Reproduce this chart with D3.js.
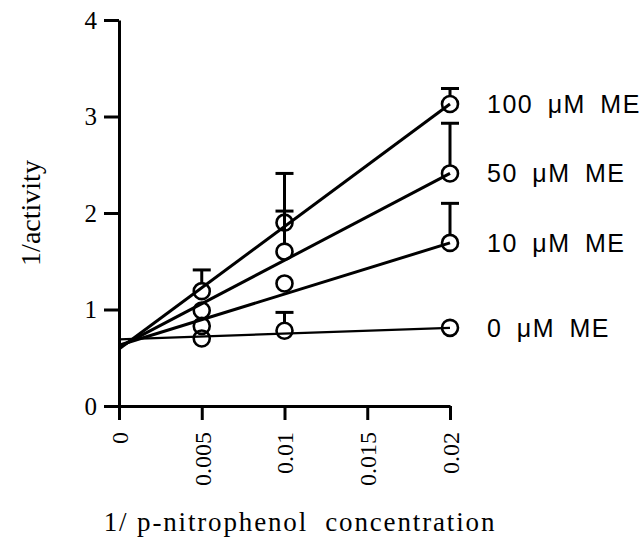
<!DOCTYPE html>
<html>
<head>
<meta charset="utf-8">
<script src="https://d3js.org/d3.v7.min.js"></script>
<style>
  body { margin: 0; background: #fff; }
  svg { display: block; }
</style>
</head>
<body>
<svg width="642" height="547"></svg>
<script>
const width = 642
const height = 547

// x positions of measured points (1/[p-nitrophenol])
const xValues = [0.005, 0.01, 0.02]

// series labels and measured 1/activity values
const seriesLabels = ["0 \u03bcM ME", "10 \u03bcM ME", "50 \u03bcM ME", "100 \u03bcM ME"]
const me0 = [0.70, 0.78, 0.81]
const me10 = [0.83, 1.27, 1.69]
const me50 = [0.99, 1.60, 2.41]
const me100 = [1.19, 1.90, 3.13]

// upper error bar ends (null = no bar drawn)
const err0 = [null, 0.97, null]
const err10 = [null, null, 2.10]
const err50 = [null, 2.02, 2.93]
const err100 = [1.41, 2.41, 3.29]

// fitted line ends at x = 0 and x = 0.02
const fitStart = [0.69, 0.63, 0.61, 0.59]
const fitEnd = [0.81, 1.69, 2.41, 3.13]

const xTicks = [0, 0.005, 0.01, 0.015, 0.02]
const yTicks = [0, 1, 2, 3, 4]

const series = [me0, me10, me50, me100]
const errors = [err0, err10, err50, err100]

const serif = "'Liberation Serif', 'Times New Roman', serif"

const x = d3.scaleLinear().domain([0, 0.02]).range([119, 450])
const y = d3.scaleLinear().domain([0, 4]).range([406, 20])

const svg = d3.select("svg")

// fitted lines
svg.append("g")
  .selectAll("line")
  .data(fitStart)
  .join("line")
  .attr("x1", x(0))
  .attr("y1", d => y(d))
  .attr("x2", x(0.02))
  .attr("y2", (d, i) => y(fitEnd[i]))
  .attr("stroke", "#000")
  .attr("stroke-width", (d, i) => i === 0 ? 2.2 : 3)

// error bars
const bars = []
series.forEach((s, i) => {
  s.forEach((v, j) => {
    if (errors[i][j] != null) bars.push({x: xValues[j], v: v, e: errors[i][j]})
  })
})

const eb = svg.append("g").selectAll("g").data(bars).join("g")
eb.append("line")
  .attr("x1", d => x(d.x))
  .attr("x2", d => x(d.x))
  .attr("y1", d => y(d.v) - 8)
  .attr("y2", d => y(d.e))
  .attr("stroke", "#000")
  .attr("stroke-width", 3)
eb.append("line")
  .attr("x1", d => x(d.x) - 9)
  .attr("x2", d => x(d.x) + 9)
  .attr("y1", d => y(d.e))
  .attr("y2", d => y(d.e))
  .attr("stroke", "#000")
  .attr("stroke-width", 3)

// points
const pts = []
series.forEach((s, i) => s.forEach((v, j) => pts.push({x: xValues[j], v: v})))

svg.append("g")
  .selectAll("circle")
  .data(pts)
  .join("circle")
  .attr("cx", d => x(d.x))
  .attr("cy", d => y(d.v))
  .attr("r", 8)
  .attr("fill", "none")
  .attr("stroke", "#000")
  .attr("stroke-width", 2.6)

// axes
const xAxis = svg.append("g")
  .attr("transform", `translate(0,${y(0)})`)
  .call(d3.axisBottom(x).tickValues(xTicks).tickSize(14).tickSizeOuter(0).tickFormat(d => d === 0 ? "0" : d3.format("")(d)))
xAxis.attr("font-family", serif).attr("font-size", 24)
xAxis.select(".domain").attr("stroke-width", 3)
xAxis.selectAll(".tick line").attr("stroke-width", 3)
xAxis.selectAll(".tick text")
  .attr("transform", "rotate(-90)")
  .attr("text-anchor", "end")
  .attr("x", -26)
  .attr("y", 0)
  .attr("dy", "0.35em")
  .attr("fill", "#000")

const yAxis = svg.append("g")
  .attr("transform", `translate(${x(0)},0)`)
  .call(d3.axisLeft(y).tickValues(yTicks).tickFormat(d3.format("d")).tickSize(15).tickSizeOuter(0).tickPadding(7))
yAxis.attr("font-family", serif).attr("font-size", 25)
yAxis.select(".domain").attr("stroke-width", 3)
yAxis.selectAll(".tick line").attr("stroke-width", 3)
yAxis.selectAll(".tick text").attr("fill", "#000")

// series labels
svg.append("g")
  .selectAll("text")
  .data(seriesLabels)
  .join("text")
  .attr("x", x(0.02) + 37)
  .attr("y", (d, i) => y(fitEnd[i]))
  .attr("dy", "0.35em")
  .style("font-family", "'Liberation Sans', Arial, sans-serif")
  .style("font-size", "25px")
  .style("letter-spacing", "1.5px")
  .style("word-spacing", "6px")
  .text(d => d)

// axis titles
svg.append("text")
  .attr("transform", "translate(40,213) rotate(-90)")
  .attr("text-anchor", "middle")
  .style("font-family", serif)
  .style("font-size", "28px")
  .text("1/activity")

svg.append("text")
  .attr("x", 300)
  .attr("y", 531)
  .attr("text-anchor", "middle")
  .style("font-family", serif)
  .style("font-size", "27px")
  .style("letter-spacing", "1.85px")
  .style("white-space", "pre")
  .text("1/ p-nitrophenol  concentration")
</script>
</body>
</html>
